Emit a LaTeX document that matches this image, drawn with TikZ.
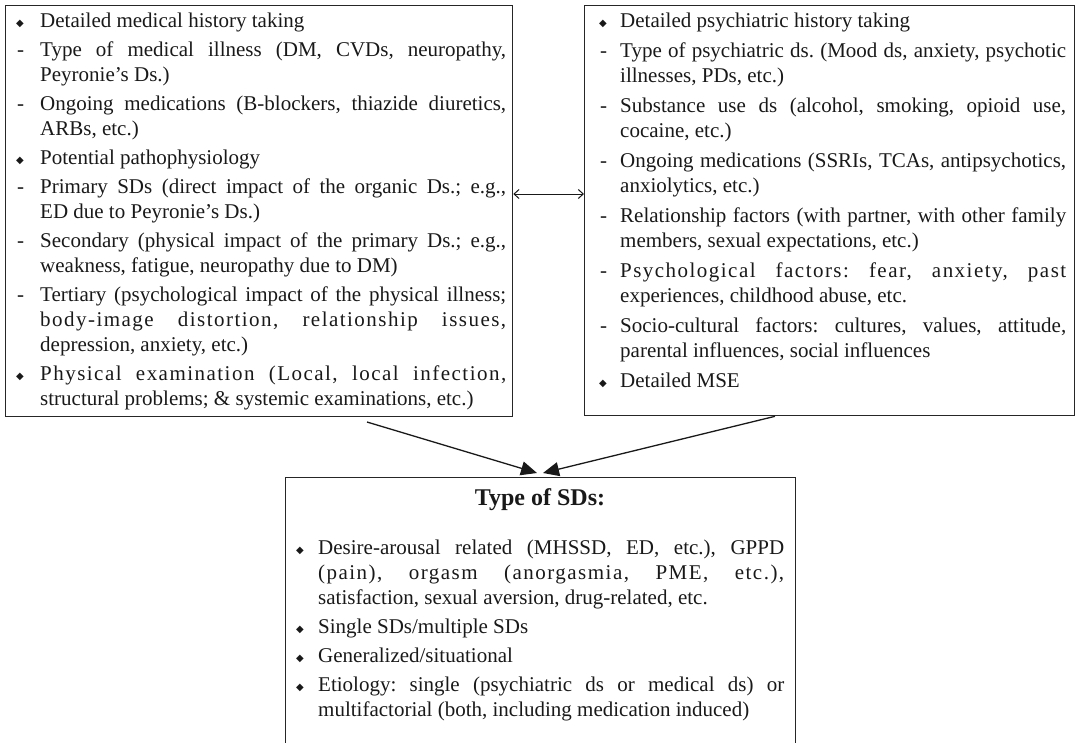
\documentclass[tikz,border=0pt]{standalone}
\usepackage{fontspec}
\setmainfont{Liberation Serif}
\newfontfamily\symfont{DejaVu Sans}
\newfontfamily\lsfont[LetterSpace=7]{Liberation Serif}
\usetikzlibrary{arrows.meta,calc}
\newlength\mw
\newlength\tw
\newlength\ig
\newlength\bo
\setlength\bo{2pt}
\newcommand\Rs{\spaceskip=0pt \xspaceskip=0pt \frenchspacing}
\newcommand\Bu{\makebox[\mw][l]{\hspace*{\bo}\raisebox{0.6pt}{\symfont\fontsize{10}{10}\selectfont ◆}}}
\newcommand\Du{\makebox[\mw][l]{\hspace*{\bo}\hspace*{1pt}-}}
\newcommand\Co{\hspace*{\mw}}
\newcommand\J[1]{\makebox[\tw][s]{\Rs #1}}
\newcommand\Ls[1]{\makebox[\tw][s]{\lsfont\Rs #1}}
\newcommand\G{\vspace{\ig}}
\begin{document}
\begin{tikzpicture}[x=1pt,y=-1pt,
  box/.style={draw=black!85, line width=1.3pt, inner sep=0pt, anchor=north west},
  txt/.style={anchor=base west, inner sep=0pt, text width=520pt, align=left,
    font=\fontsize{21}{25}\selectfont, text=black!90},
  link/.style={line width=1.3pt, draw=black!90, -{Triangle[length=16pt,width=14pt]}},
  dbl/.style={line width=1pt, draw=black!90,
    {Straight Barb[length=5pt,width=9pt]}-{Straight Barb[length=5pt,width=9pt]}}]

\useasboundingbox (0,0) rectangle (1076,742);
\clip (0,0) rectangle (1076,742);

% boxes
\node[box, minimum width=507pt, minimum height=411pt] (med) at (5,5) {};
\node[box, minimum width=490pt, minimum height=410pt] (psy) at (584,5) {};
\node[box, minimum width=510pt, minimum height=320pt] (sd) at (285,477) {};

% left text
\node[txt] (medtxt) at (14,27) {\Rs\setlength\mw{26pt}\setlength\tw{466pt}\setlength\ig{4pt}%
\Bu Detailed medical history taking\par\G
\Du\J{Type of medical illness (DM, CVDs, neuropathy,}\par
\Co Peyronie’s Ds.)\par\G
\Du\J{Ongoing medications (B-blockers, thiazide diuretics,}\par
\Co ARBs, etc.)\par\G
\Bu Potential pathophysiology\par\G
\Du\J{Primary SDs (direct impact of the organic Ds.; e.g.,}\par
\Co ED due to Peyronie’s Ds.)\par\G
\Du\J{Secondary (physical impact of the primary Ds.; e.g.,}\par
\Co weakness, fatigue, neuropathy due to DM)\par\G
\Du\J{Tertiary (psychological impact of the physical illness;}\par
\Co\Ls{body-image distortion, relationship issues,}\par
\Co depression, anxiety, etc.)\par\G
\Bu\Ls{Physical examination (Local, local infection,}\par
\Co structural problems; \& systemic examinations, etc.)\par};

% right text
\node[txt] (psytxt) at (597,27) {\Rs\setlength\mw{23pt}\setlength\tw{446pt}\setlength\ig{5pt}%
\Bu Detailed psychiatric history taking\par\G
\Du\J{Type of psychiatric ds. (Mood ds, anxiety, psychotic}\par
\Co illnesses, PDs, etc.)\par\G
\Du\J{Substance use ds (alcohol, smoking, opioid use,}\par
\Co cocaine, etc.)\par\G
\Du\J{Ongoing medications (SSRIs, TCAs, antipsychotics,}\par
\Co anxiolytics, etc.)\par\G
\Du\J{Relationship factors (with partner, with other family}\par
\Co members, sexual expectations, etc.)\par\G
\Du\Ls{Psychological factors: fear, anxiety, past}\par
\Co experiences, childhood abuse, etc.\par\G
\Du\J{Socio-cultural factors: cultures, values, attitude,}\par
\Co parental influences, social influences\par\G
\Bu Detailed MSE\par};

% bottom text
\node[anchor=base, inner sep=0pt, font=\bfseries\fontsize{24}{28}\selectfont, text=black!90] (ttl) at (540,505) {Type of SDs:};
\node[txt] (sdtxt) at (294,554) {\Rs\setlength\mw{24pt}\setlength\tw{466pt}\setlength\ig{4pt}%
\Bu\J{Desire-arousal related (MHSSD, ED, etc.), GPPD}\par
\Co\Ls{(pain), orgasm (anorgasmia, PME, etc.),}\par
\Co satisfaction, sexual aversion, drug-related, etc.\par\G
\Bu Single SDs/multiple SDs\par\G
\Bu Generalized/situational\par\G
\Bu\J{Etiology: single (psychiatric ds or medical ds) or}\par
\Co multifactorial (both, including medication induced)\par};

% connectors
\coordinate (arrowy) at (0,194);
\draw[dbl] (med.east |- arrowy) -- (psy.west |- arrowy);
\coordinate (la) at (367,422);
\draw[link] (la) -- ([xshift=252pt,yshift=4pt]sd.north west);
\draw[link] ([xshift=191pt]psy.south west) -- ([xshift=258pt,yshift=4pt]sd.north west);
\end{tikzpicture}
\end{document}
